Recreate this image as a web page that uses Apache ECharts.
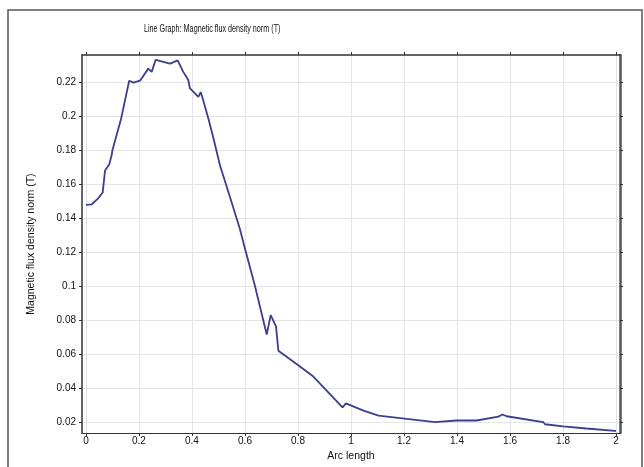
<!DOCTYPE html>
<html>
<head>
<meta charset="utf-8">
<script src="https://cdn.jsdelivr.net/npm/echarts@6/dist/echarts.min.js"></script>
<style>html,body{margin:0;padding:0;background:#fff}#c{width:644px;height:467px}</style>
</head>
<body>
<div id="c"></div>
<script>
const arcLength = [0, 0.021, 0.046, 0.063, 0.072, 0.088, 0.097, 0.1, 0.132, 0.163, 0.179, 0.204, 0.235, 0.248, 0.263, 0.285, 0.317, 0.346, 0.367, 0.386, 0.392, 0.424, 0.433, 0.44, 0.462, 0.481, 0.506, 0.538, 0.58, 0.6, 0.636, 0.682, 0.697, 0.717, 0.726, 0.801, 0.858, 0.968, 0.981, 1.047, 1.104, 1.21, 1.317, 1.399, 1.474, 1.556, 1.572, 1.587, 1.725, 1.732, 1.8, 1.888, 1.996, 2.0];
const fluxNorm = [0.1478, 0.148, 0.1516, 0.155, 0.168, 0.1716, 0.177, 0.18, 0.198, 0.2207, 0.2196, 0.2207, 0.2278, 0.2259, 0.233, 0.232, 0.2307, 0.2326, 0.2259, 0.2211, 0.2164, 0.2112, 0.214, 0.2106, 0.1983, 0.1869, 0.1707, 0.155, 0.134, 0.122, 0.1011, 0.0716, 0.083, 0.0764, 0.0621, 0.0535, 0.0469, 0.0288, 0.0312, 0.0269, 0.024, 0.0221, 0.0202, 0.0211, 0.0211, 0.0234, 0.0246, 0.0236, 0.0202, 0.0189, 0.0177, 0.0164, 0.015, 0.015];
const xTicks = [0, 0.2, 0.4, 0.6, 0.8, 1, 1.2, 1.4, 1.6, 1.8, 2];
const yTicks = [0.02, 0.04, 0.06, 0.08, 0.1, 0.12, 0.14, 0.16, 0.18, 0.2, 0.22];
const titleText = 'Line Graph: Magnetic flux density norm (T)';
const xName = 'Arc length';
const yName = 'Magnetic flux density norm (T)';

const fmt = v => String(parseFloat(Number(v).toFixed(3)));
const font = '"Liberation Sans", Arial, sans-serif';
const xMin = -0.015, xMax = 2.015, yMin = 0.0137, yMax = 0.2358;
const gridCol = '#e3e4ea';
const axisCol = '#333';
const txtCol = '#111';

const chart = echarts.init(document.getElementById('c'), null, {renderer: 'canvas'});
function xAx(pos, show) {
  return {
    type: 'value', position: pos, min: xMin, max: xMax,
    name: show ? xName : '', nameLocation: 'middle', nameGap: 14,
    nameTextStyle: {fontFamily: font, fontSize: 10.5, color: txtCol},
    axisLine: {show: true, onZero: false, lineStyle: {color: axisCol, width: show ? 1.2 : 1.5}},
    axisTick: {show: true, inside: false, length: 3, customValues: xTicks, lineStyle: {color: axisCol}},
    axisLabel: {show: show, customValues: xTicks, formatter: fmt, fontFamily: font, fontSize: 10, color: txtCol, margin: 3},
    splitLine: {show: show, customValues: xTicks, lineStyle: {color: gridCol, width: 1}}
  };
}
function yAx(pos, show) {
  return {
    type: 'value', position: pos, min: yMin, max: yMax,
    name: show ? yName : '', nameLocation: 'middle', nameGap: 45, nameRotate: 90,
    nameTextStyle: {fontFamily: font, fontSize: 10.5, color: txtCol},
    axisLine: {show: true, onZero: false, lineStyle: {color: show ? axisCol : '#555', width: show ? 1.5 : 2.5}},
    axisTick: {show: true, inside: false, length: 3, customValues: yTicks, lineStyle: {color: axisCol}},
    axisLabel: {show: show, customValues: yTicks, formatter: fmt, fontFamily: font, fontSize: 10, color: txtCol, margin: 6},
    splitLine: {show: show, customValues: yTicks, lineStyle: {color: gridCol, width: 1}}
  };
}
chart.setOption({
  animation: false,
  backgroundColor: '#fff',
  grid: {left: 82, top: 55, right: 24, bottom: 24, containLabel: false},
  xAxis: [xAx('bottom', true), xAx('top', false)],
  yAxis: [yAx('left', true), yAx('right', false)],
  graphic: [
    {type: 'rect', shape: {x: 8, y: 10, width: 634, height: 470}, style: {fill: 'none', stroke: '#555', lineWidth: 1.5}, silent: true, z: 100},
    {type: 'text', x: 144, y: 29, scaleX: 0.72, style: {text: titleText, font: '10px ' + font, fill: txtCol, verticalAlign: 'middle', textAlign: 'left'}, silent: true, z: 100}
  ],
  series: [{
    type: 'line', xAxisIndex: 0, yAxisIndex: 0,
    data: arcLength.map((x, i) => [x, fluxNorm[i]]),
    showSymbol: false, smooth: false,
    lineStyle: {color: '#3c3f8c', width: 1.8}
  }]
});
</script>
</body>
</html>
